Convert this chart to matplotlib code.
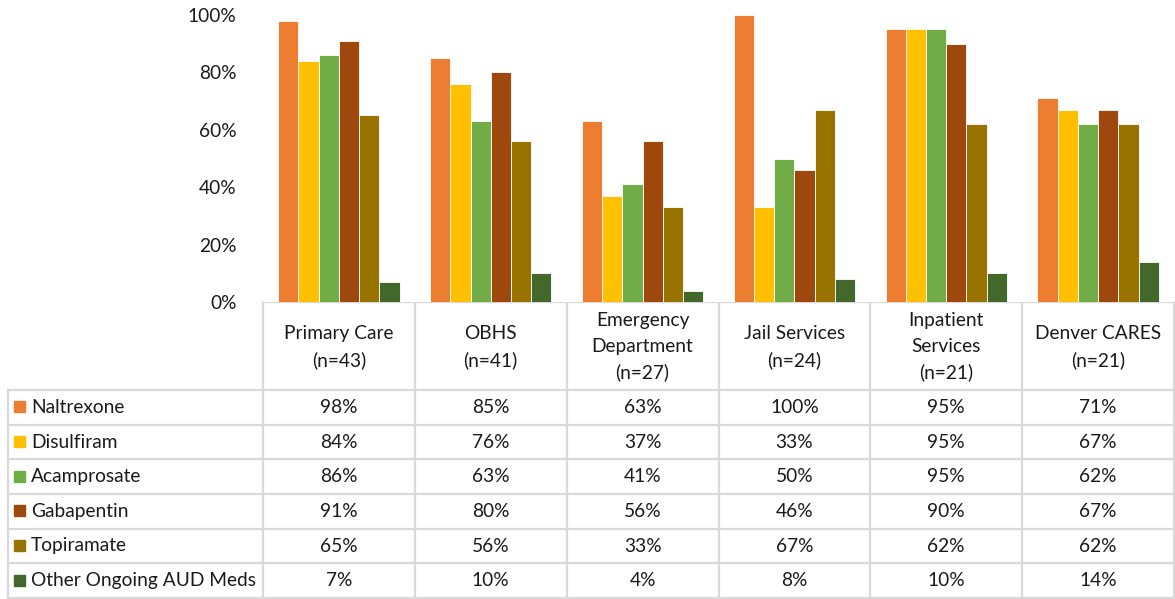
import numpy as np
import matplotlib.pyplot as plt

sites = ["Primary Care\n(n=43)", "OBHS\n(n=41)", "Emergency\nDepartment\n(n=27)",
         "Jail Services\n(n=24)", "Inpatient\nServices\n(n=21)", "Denver CARES\n(n=21)"]
meds = ["Naltrexone", "Disulfiram", "Acamprosate", "Gabapentin", "Topiramate",
        "Other Ongoing AUD Meds"]
naltrexone = [98, 85, 63, 100, 95, 71]
disulfiram = [84, 76, 37, 33, 95, 67]
acamprosate = [86, 63, 41, 50, 95, 62]
gabapentin = [91, 80, 56, 46, 90, 67]
topiramate = [65, 56, 33, 67, 62, 62]
other_meds = [7, 10, 4, 8, 10, 14]
colors = ["#ED7D31", "#FFC000", "#70AD47", "#9E480E", "#997300", "#43682B"]

series = [naltrexone, disulfiram, acamprosate, gabapentin, topiramate, other_meds]

plt.rcParams['font.family'] = ['Lato', 'DejaVu Sans']
fs = 13.8
tc = '#1a1a1a'

W, H = 1175, 599
fig = plt.figure(figsize=(W / 100, H / 100), dpi=100)

# table layer in pixel coords
tab = fig.add_axes([0, 0, 1, 1])
tab.set_xlim(0, W)
tab.set_ylim(H, 0)
tab.axis('off')

x0, x1 = 263, 1174
ytop, yhead = 302, 390
row_h = (H - 1 - yhead) / len(meds)
col_w = (x1 - x0) / len(sites)

ax = fig.add_axes([x0 / W, 1 - ytop / H, (x1 - x0) / W, (ytop - 15) / H])
x = np.arange(len(sites))
bw = 0.8 / len(series)
for k, (vals, c) in enumerate(zip(series, colors)):
    ax.bar(x - 0.4 + bw * (k + 0.5), vals, bw, color=c, edgecolor='white', linewidth=0.6)
ax.set_xlim(-0.5, len(sites) - 0.5)
ax.set_ylim(0, 100)
ax.set_yticks(range(0, 101, 20))
ax.set_yticklabels([f"{v}%" for v in range(0, 101, 20)], fontsize=fs, color=tc)
ax.tick_params(axis='y', length=0, pad=19)
ax.set_xticks([])
for s in ['top', 'right', 'left', 'bottom']:
    ax.spines[s].set_visible(False)

gc = '#D9D9D9'
lw = 1.6
# header grid
tab.plot([x0, x1], [ytop, ytop], color=gc, lw=lw)
for i in range(len(sites) + 1):
    tab.plot([x0 + i * col_w] * 2, [ytop, H], color=gc, lw=lw)
for j in range(len(meds) + 1):
    yy = yhead + j * row_h
    tab.plot([8, x1], [yy, yy], color=gc, lw=lw)
tab.plot([8, 8], [yhead, H], color=gc, lw=lw)

for i, s in enumerate(sites):
    tab.text(x0 + (i + 0.5) * col_w, (ytop + yhead) / 2 + 1, s, ha='center', va='center',
             fontsize=fs, color=tc, linespacing=1.6)

for j, (m, vals, c) in enumerate(zip(meds, series, colors)):
    yc = yhead + (j + 0.5) * row_h
    tab.add_patch(plt.Rectangle((14, yc - 6), 11, 11, color=c))
    tab.text(31, yc, m, ha='left', va='center', fontsize=fs, color=tc)
    for i, v in enumerate(vals):
        tab.text(x0 + (i + 0.5) * col_w, yc, f"{v}%", ha='center', va='center',
                 fontsize=fs, color=tc)

fig.savefig("out.png", dpi=100)
